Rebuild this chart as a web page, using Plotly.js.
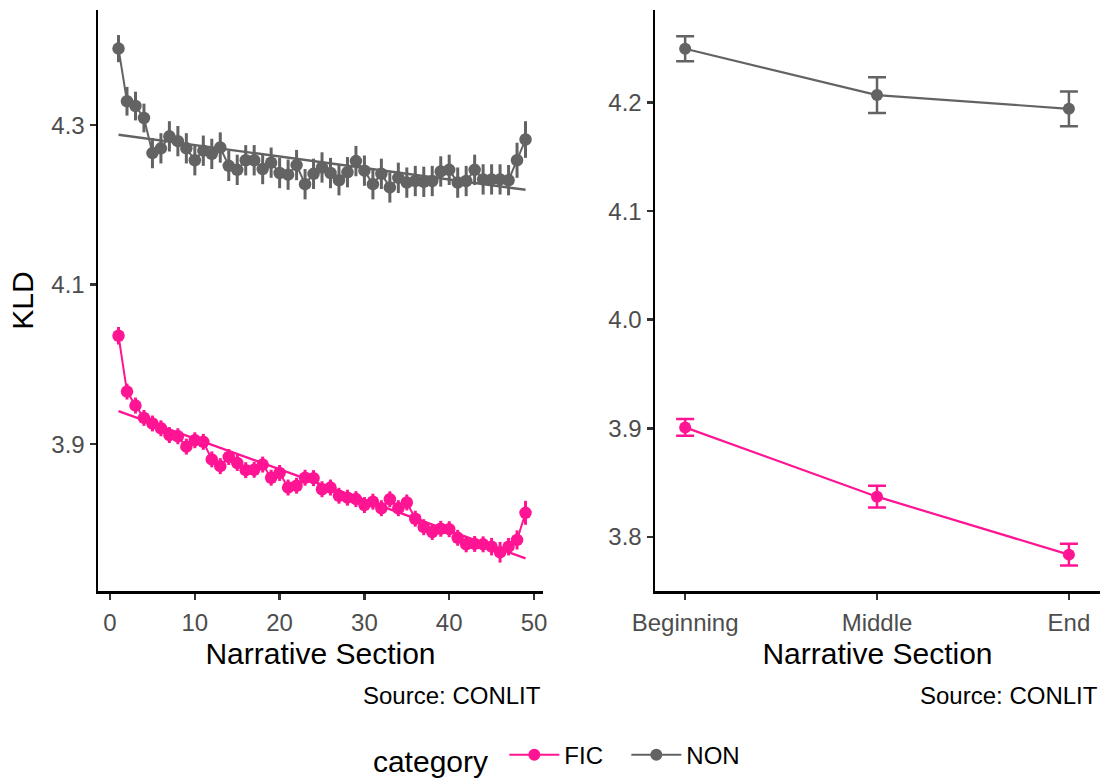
<!DOCTYPE html>
<html><head><meta charset="utf-8">
<script src="https://cdn.plot.ly/plotly-3.0.1.min.js"></script>
<style>html,body{margin:0;padding:0;background:#fff}</style>
</head><body><div id="chart" style="width:1101px;height:783px"></div>
<script>
const sections = [1,2,3,4,5,6,7,8,9,10,11,12,13,14,15,16,17,18,19,20,21,22,23,24,25,26,27,28,29,30,31,32,33,34,35,36,37,38,39,40,41,42,43,44,45,46,47,48,49];
const nonKLD = [4.396,4.330,4.324,4.309,4.265,4.271,4.286,4.280,4.271,4.256,4.268,4.264,4.272,4.249,4.244,4.256,4.256,4.245,4.253,4.240,4.238,4.250,4.226,4.239,4.247,4.240,4.231,4.241,4.255,4.243,4.226,4.239,4.222,4.234,4.228,4.230,4.229,4.230,4.242,4.244,4.228,4.230,4.244,4.232,4.232,4.232,4.231,4.256,4.282];
const nonErr = [0.017,0.018,0.018,0.018,0.019,0.019,0.019,0.019,0.019,0.019,0.019,0.019,0.019,0.019,0.019,0.019,0.019,0.019,0.019,0.019,0.019,0.019,0.019,0.019,0.019,0.019,0.019,0.019,0.019,0.019,0.019,0.019,0.019,0.019,0.019,0.019,0.019,0.019,0.019,0.019,0.019,0.019,0.019,0.019,0.019,0.019,0.019,0.022,0.023];
const ficKLD = [4.036,3.966,3.9485,3.933,3.926,3.920,3.9115,3.910,3.897,3.905,3.903,3.881,3.8725,3.884,3.8765,3.8675,3.868,3.8745,3.858,3.864,3.8457,3.848,3.858,3.8575,3.8436,3.8457,3.8354,3.833,3.8312,3.8238,3.828,3.8198,3.831,3.8198,3.827,3.8066,3.796,3.790,3.794,3.7935,3.7827,3.7745,3.775,3.7745,3.7716,3.7646,3.7716,3.780,3.814];
const ficErr = [0.011,0.010,0.010,0.010,0.010,0.010,0.010,0.010,0.010,0.010,0.010,0.010,0.010,0.010,0.010,0.010,0.010,0.010,0.010,0.010,0.010,0.010,0.010,0.010,0.010,0.010,0.010,0.010,0.010,0.010,0.010,0.010,0.010,0.010,0.010,0.010,0.010,0.010,0.010,0.010,0.010,0.010,0.010,0.010,0.011,0.013,0.011,0.012,0.015];
const trendX = [1,49];
const nonTrend = [4.288,4.219];
const ficTrend = [3.9416,3.757];
const parts = ["Beginning","Middle","End"];
const nonPart = [4.2496,4.2069,4.1943];
const nonPartErr = [0.0115,0.0165,0.016];
const ficPart = [3.9008,3.8370,3.7836];
const ficPartErr = [0.0077,0.010,0.010];
const xTickVals = [0,10,20,30,40,50];

const PINK = "#FF1493", GREY = "#636363";
const FONT = "Liberation Sans, Arial, Helvetica, sans-serif";

function seriesLeft(y, err, color){
  return {x: sections, y: y, type:"scatter", mode:"lines+markers", xaxis:"x", yaxis:"y",
    line:{color:color, width:2}, marker:{color:color, size:12.5},
    error_y:{type:"data", array: err, visible:true, color:color, thickness:3, width:0},
    showlegend:false, hoverinfo:"x+y"};
}
function trend(y, color){
  return {x: trendX, y: y, type:"scatter", mode:"lines", xaxis:"x", yaxis:"y",
    line:{color:color, width:2.4}, showlegend:false, hoverinfo:"skip"};
}
function seriesRight(name, y, err, color){
  return {x: parts, y: y, name: name, type:"scatter", mode:"lines+markers", xaxis:"x2", yaxis:"y2",
    line:{color:color, width:2.2}, marker:{color:color, size:12},
    error_y:{type:"data", array: err, visible:true, color:color, thickness:2.5, width:9}};
}

const data = [
  seriesLeft(nonKLD, nonErr, GREY), trend(nonTrend, GREY),
  seriesLeft(ficKLD, ficErr, PINK), trend(ficTrend, PINK),
  seriesRight("FIC", ficPart, ficPartErr, PINK),
  seriesRight("NON", nonPart, nonPartErr, GREY)
];

const axCommon = {showgrid:false, zeroline:false, showline:true, linecolor:"#000", linewidth:2.5,
  ticks:"outside", ticklen:6, tickwidth:2.5, tickcolor:"#333",
  tickfont:{family:FONT, size:24, color:"#4d4d4d"}, automargin:false};

const layout = {
  width:1101, height:783,
  margin:{l:98, r:1, t:10, b:183},
  paper_bgcolor:"#fff", plot_bgcolor:"#fff",
  font:{family:FONT},
  xaxis: Object.assign({}, axCommon, {domain:[0,0.4441], range:[-1.42,51.06], tickvals:xTickVals, ticklabelstandoff:3,
    title:{text:"Narrative Section", font:{family:FONT, size:30, color:"#000"}, standoff:8}}),
  yaxis: Object.assign({}, axCommon, {domain:[0,1], range:[3.716,4.4444], tickvals:[3.9,4.1,4.3], ticktext:["3.9","4.1","4.3"],
    title:{text:"KLD", font:{family:FONT, size:30, color:"#000"}, standoff:9}}),
  xaxis2: Object.assign({}, axCommon, {domain:[0.5559,1], type:"category", range:[-0.157,2.162], anchor:"y2", ticklabelstandoff:3,
    title:{text:"Narrative Section", font:{family:FONT, size:30, color:"#000"}, standoff:8}}),
  yaxis2: Object.assign({}, axCommon, {domain:[0,1], range:[3.7501,4.2853], tickvals:[3.8,3.9,4.0,4.1,4.2], ticktext:["3.8","3.9","4.0","4.1","4.2"], anchor:"x2"}),
  legend:{orientation:"h", x:0.461, xanchor:"center", y:-0.286, yanchor:"middle",
    itemwidth:50, entrywidth:57, entrywidthmode:"pixels",
    title:{text:"category ", side:"left", font:{family:FONT, size:30, color:"#000"}},
    font:{family:FONT, size:24, color:"#000"}, bgcolor:"rgba(0,0,0,0)"},
  annotations:[
    {text:"Source: CONLIT", xref:"paper", yref:"paper", x:0.4441, y:-0.1796, xanchor:"right", yanchor:"middle", showarrow:false, font:{family:FONT, size:24, color:"#000"}},
    {text:"Source: CONLIT", xref:"paper", yref:"paper", x:1, y:-0.1796, xanchor:"right", yanchor:"middle", showarrow:false, font:{family:FONT, size:24, color:"#000"}}
  ]
};
Plotly.newPlot("chart", data, layout, {displayModeBar:false, staticPlot:true});
</script></body></html>
